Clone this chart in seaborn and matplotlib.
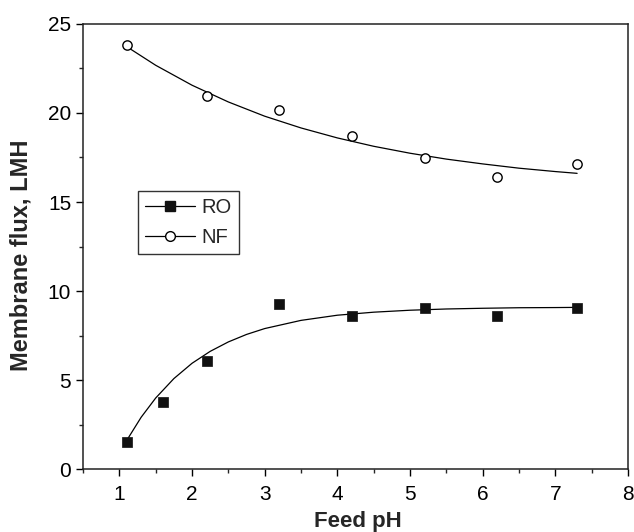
import numpy as np
import pandas as pd
import matplotlib
matplotlib.use("Agg")
import matplotlib.pyplot as plt
from matplotlib.lines import Line2D
from matplotlib.ticker import MultipleLocator
import seaborn as sns

# measured points
ph_ro = [1.1, 1.6, 2.2, 3.2, 4.2, 5.2, 6.2, 7.3]
flux_ro = [1.5, 3.78, 6.05, 9.25, 8.6, 9.03, 8.6, 9.03]
ph_nf = [1.1, 2.2, 3.2, 4.2, 5.2, 6.2, 7.3]
flux_nf = [23.8, 20.97, 20.17, 18.72, 17.48, 16.4, 17.12]

# fitted curves
curve_x_ro = [1.1, 1.3, 1.5, 1.75, 2.0, 2.25, 2.5, 2.75, 3.0, 3.5, 4.0, 4.5, 5.0, 5.5, 6.0, 6.5, 7.0, 7.3]
curve_y_ro = [1.6, 2.91, 3.99, 5.08, 5.94, 6.61, 7.14, 7.56, 7.89, 8.35, 8.64, 8.81, 8.92, 8.99, 9.03, 9.06, 9.07, 9.08]
curve_x_nf = [1.1, 1.5, 2.0, 2.5, 3.0, 3.5, 4.0, 4.5, 5.0, 5.5, 6.0, 6.5, 7.0, 7.3]
curve_y_nf = [23.73, 22.68, 21.56, 20.62, 19.82, 19.16, 18.6, 18.13, 17.74, 17.41, 17.14, 16.9, 16.71, 16.61]

sns.set_style("ticks")
plt.rcParams['font.family'] = ['Liberation Sans', 'DejaVu Sans']

fig = plt.figure(figsize=(6.34, 5.32), dpi=100)
ax = fig.add_axes([0.131, 0.1184, 0.8595, 0.8365])

pts_ro = pd.DataFrame({'ph': ph_ro, 'flux': flux_ro})
pts_nf = pd.DataFrame({'ph': ph_nf, 'flux': flux_nf})
fit_ro = pd.DataFrame({'ph': curve_x_ro, 'flux': curve_y_ro})
fit_nf = pd.DataFrame({'ph': curve_x_nf, 'flux': curve_y_nf})

sns.lineplot(data=fit_ro, x='ph', y='flux', color='black', linewidth=0.9, sort=False, ax=ax)
sns.lineplot(data=fit_nf, x='ph', y='flux', color='black', linewidth=0.9, sort=False, ax=ax)
sns.scatterplot(data=pts_ro, x='ph', y='flux', marker='s', s=45, color='#111111',
                edgecolor='#111111', linewidth=0.5, ax=ax, zorder=3)
sns.scatterplot(data=pts_nf, x='ph', y='flux', marker='o', s=45, facecolor='white',
                edgecolor='black', linewidth=1.0, ax=ax, zorder=3)

ax.set_xlim(0.5, 8)
ax.set_ylim(0, 25)
ax.xaxis.set_major_locator(MultipleLocator(1))
ax.xaxis.set_minor_locator(MultipleLocator(0.5))
ax.yaxis.set_major_locator(MultipleLocator(5))
ax.yaxis.set_minor_locator(MultipleLocator(2.5))
ax.tick_params(which='major', direction='out', length=5, width=1, labelsize=15, colors='black')
ax.tick_params(axis='x', which='major', pad=6.5)
ax.tick_params(which='minor', direction='out', length=3, width=1)
for sp in ax.spines.values():
    sp.set_linewidth(1.1)
    sp.set_color('#222222')

ax.set_xlabel('Feed pH', fontsize=16, fontweight='bold')
ax.set_ylabel('Membrane flux, LMH', fontsize=17, fontweight='bold')
ax.xaxis.set_label_coords(0.504, -0.095)
ax.yaxis.set_label_coords(-0.092, 0.481)

handles = [
    Line2D([], [], color='black', linewidth=0.9, marker='s', markersize=7,
           markerfacecolor='#111111', markeredgecolor='#111111'),
    Line2D([], [], color='black', linewidth=0.9, marker='o', markersize=7,
           markerfacecolor='white', markeredgecolor='black'),
]
leg = ax.legend(handles, ['RO', 'NF'], loc='upper left', bbox_to_anchor=(0.101, 0.625),
                borderaxespad=0, fontsize=14.5, frameon=True, fancybox=False,
                handlelength=2.5, handletextpad=0.3, labelspacing=0.55, borderpad=0.35)
leg.get_frame().set_edgecolor('black')
leg.get_frame().set_linewidth(1.0)

plt.savefig('out.png', dpi=100)
